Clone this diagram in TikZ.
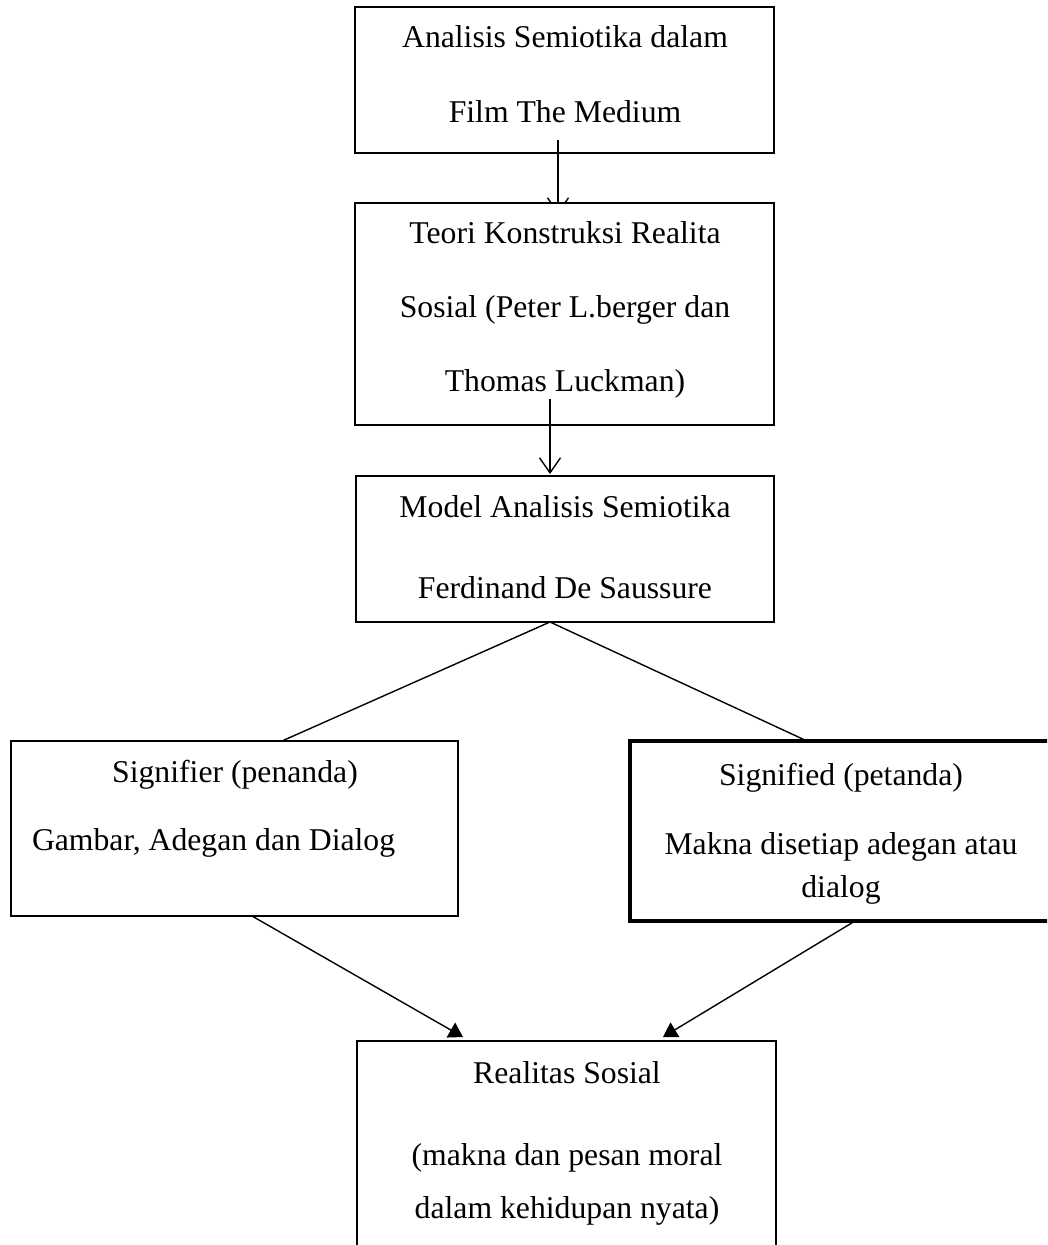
\documentclass[tikz,border=0pt]{standalone}
\usepackage{fontspec}
\setmainfont{Liberation Serif}
\usetikzlibrary{arrows.meta}
\begin{document}
\begin{tikzpicture}[x=1pt,y=-1pt,
  box/.style={draw, line width=1.5pt, fill=white, inner sep=0pt, outer sep=0pt, rectangle},
  thickbox/.style={box, line width=4pt},
  txt/.style={anchor=base, inner sep=0pt, outer sep=0pt, font=\fontsize{31.7}{38}\selectfont},
  conn/.style={line width=1.4pt},
  openarrow/.style={conn, -{Straight Barb[length=15pt,width=21pt,line width=1.4pt]}},
  fillarrow/.style={conn, -{Triangle[length=14pt,width=17pt]}}]
\useasboundingbox (0,0) rectangle (1047,1245);
\fill[white] (0,0) rectangle (1047,1245);
\clip (0,0) rectangle (1047,1245);

% box 1
\node[box, minimum width=419pt, minimum height=146pt] (b1) at (564.5,80) {};
\node[txt] (b1a) at (565,47) {Analisis Semiotika dalam};
\node[txt] (b1b) at (565,122) {Film The Medium};

\coordinate (a1s) at (558,140);
\coordinate (a1e) at (558,214);
\draw[openarrow] (a1s) -- (a1e);

% box 2
\node[box, minimum width=419pt, minimum height=222pt] (b2) at (564.5,314) {};
\node[txt] (b2a) at (565,243) {Teori Konstruksi Realita};
\node[txt] (b2b) at (565,317) {Sosial (Peter L.berger dan};
\node[txt] (b2c) at (565,391) {Thomas Luckman)};

\coordinate (a2s) at (550,399);
\coordinate (a2e) at (550,474);
\draw[openarrow] (a2s) -- (a2e);

% box 3
\node[box, minimum width=418pt, minimum height=146pt] (b3) at (565,549) {};
\node[txt] (b3a) at (565,517) {Model Analisis Semiotika};
\node[txt] (b3b) at (565,598) {Ferdinand De Saussure};

\coordinate (v) at (550,622);
\coordinate (sl) at (282,741);
\coordinate (sr) at (807,741);
\draw[conn] (sl) -- (v) -- (sr);

% signifier
\node[box, minimum width=447pt, minimum height=175pt] (sig) at (234.5,828.5) {};
\node[txt] (siga) at (235,782) {Signifier (penanda)};
\node[txt, anchor=base west] (sigb) at (32,850) {Gambar, Adegan dan Dialog};

% signified
\node[thickbox, minimum width=422pt, minimum height=180pt] (sgd) at (841,831) {};
\node[txt] (sgda) at (841,785) {Signified (petanda)};
\node[txt] (sgdb) at (841,854) {Makna disetiap adegan atau};
\node[txt] (sgdc) at (841,897) {dialog};

\coordinate (l1s) at (252,916);
\coordinate (l1e) at (463,1037);
\coordinate (l2s) at (855,921);
\coordinate (l2e) at (663,1037);
\draw[fillarrow] (l1s) -- (l1e);
\draw[fillarrow] (l2s) -- (l2e);

% realitas
\node[box, minimum width=419pt, minimum height=240pt] (real) at (566.5,1161) {};
\node[txt] (reala) at (567,1083) {Realitas Sosial};
\node[txt] (realb) at (567,1165) {(makna dan pesan moral};
\node[txt] (realc) at (567,1218) {dalam kehidupan nyata)};
\end{tikzpicture}
\end{document}
